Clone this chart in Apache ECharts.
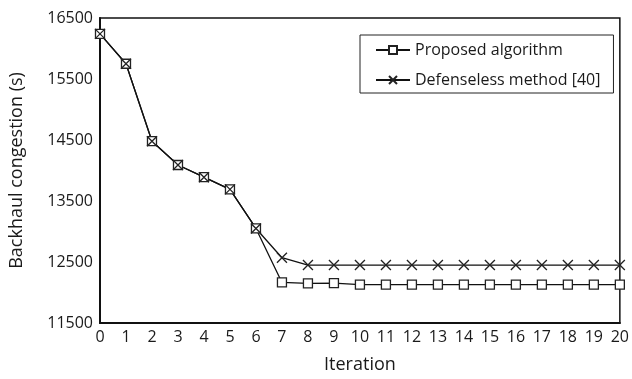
<!DOCTYPE html>
<html>
<head>
<meta charset="utf-8">
<script src="https://cdn.jsdelivr.net/npm/echarts@6/dist/echarts.min.js"></script>
<style>
  html, body { margin: 0; padding: 0; background: #fff; }
  #chart { width: 632px; height: 379px; }
</style>
</head>
<body>
<div id="chart"></div>
<script>
// Iterations on the horizontal axis
const iterations = ['0','1','2','3','4','5','6','7','8','9','10','11','12','13','14','15','16','17','18','19','20'];

// Backhaul congestion per iteration (s)
const proposed = [16240, 15750, 14480, 14090, 13890, 13690, 13050, 12165, 12150, 12155, 12130, 12130, 12130, 12130, 12130, 12130, 12130, 12130, 12130, 12130, 12130];
const defenseless = [16240, 15750, 14480, 14090, 13890, 13690, 13050, 12570, 12450, 12450, 12450, 12450, 12450, 12450, 12450, 12450, 12450, 12450, 12450, 12450, 12450];

// Y axis range and tick step
const yMin = 11500, yMax = 16500, yStep = 1000;

const FONT = '"Open Sans", sans-serif';
const crossPath = 'path://M0,0L10,10M10,0L0,10';

const chart = echarts.init(document.getElementById('chart'));
chart.setOption({
  animation: false,
  backgroundColor: '#fff',
  grid: {
    left: 98, right: 11, top: 18, bottom: 55,
    show: true, borderColor: '#111', borderWidth: 1.5, backgroundColor: 'transparent'
  },
  legend: {
    orient: 'vertical',
    left: 360, top: 35,
    padding: [7, 13, 5, 15],
    itemGap: 14,
    itemWidth: 34, itemHeight: 10,
    borderColor: '#222', borderWidth: 1,
    textStyle: { fontFamily: FONT, fontSize: 16, color: '#1a1a1a', padding: [0, 0, 0, 0] },
    data: ['Proposed algorithm', 'Defenseless method [40]']
  },
  xAxis: {
    type: 'category',
    data: iterations,
    boundaryGap: false,
    name: 'Iteration',
    nameLocation: 'middle',
    nameGap: 33,
    nameTextStyle: { fontFamily: FONT, fontSize: 18, color: '#1a1a1a' },
    axisLine: { lineStyle: { color: '#111', width: 2 } },
    axisTick: { show: false },
    axisLabel: { fontFamily: FONT, fontSize: 16, color: '#1a1a1a', margin: 6 },
    splitLine: { show: false }
  },
  yAxis: {
    type: 'value',
    min: yMin, max: yMax, interval: yStep,
    name: 'Backhaul congestion (s)',
    nameLocation: 'middle',
    nameGap: 74,
    nameTextStyle: { fontFamily: FONT, fontSize: 18, color: '#1a1a1a' },
    axisLine: { show: true, lineStyle: { color: '#111', width: 2 } },
    axisTick: { show: false },
    axisLabel: { fontFamily: FONT, fontSize: 16, color: '#1a1a1a', margin: 7, formatter: v => String(v) },
    splitLine: { show: false }
  },
  series: [
    {
      name: 'Proposed algorithm',
      type: 'line',
      data: proposed,
      symbol: 'rect',
      symbolSize: 9,
      showAllSymbol: true,
      lineStyle: { color: '#111', width: 1.3 },
      itemStyle: { color: '#fff', borderColor: '#222', borderWidth: 1.3 }
    },
    {
      name: 'Defenseless method [40]',
      type: 'line',
      data: defenseless,
      symbol: crossPath,
      symbolSize: 10,
      showAllSymbol: true,
      lineStyle: { color: '#111', width: 1.3 },
      itemStyle: { color: '#fff', borderColor: '#222', borderWidth: 1.3 }
    }
  ]
});
</script>
</body>
</html>
